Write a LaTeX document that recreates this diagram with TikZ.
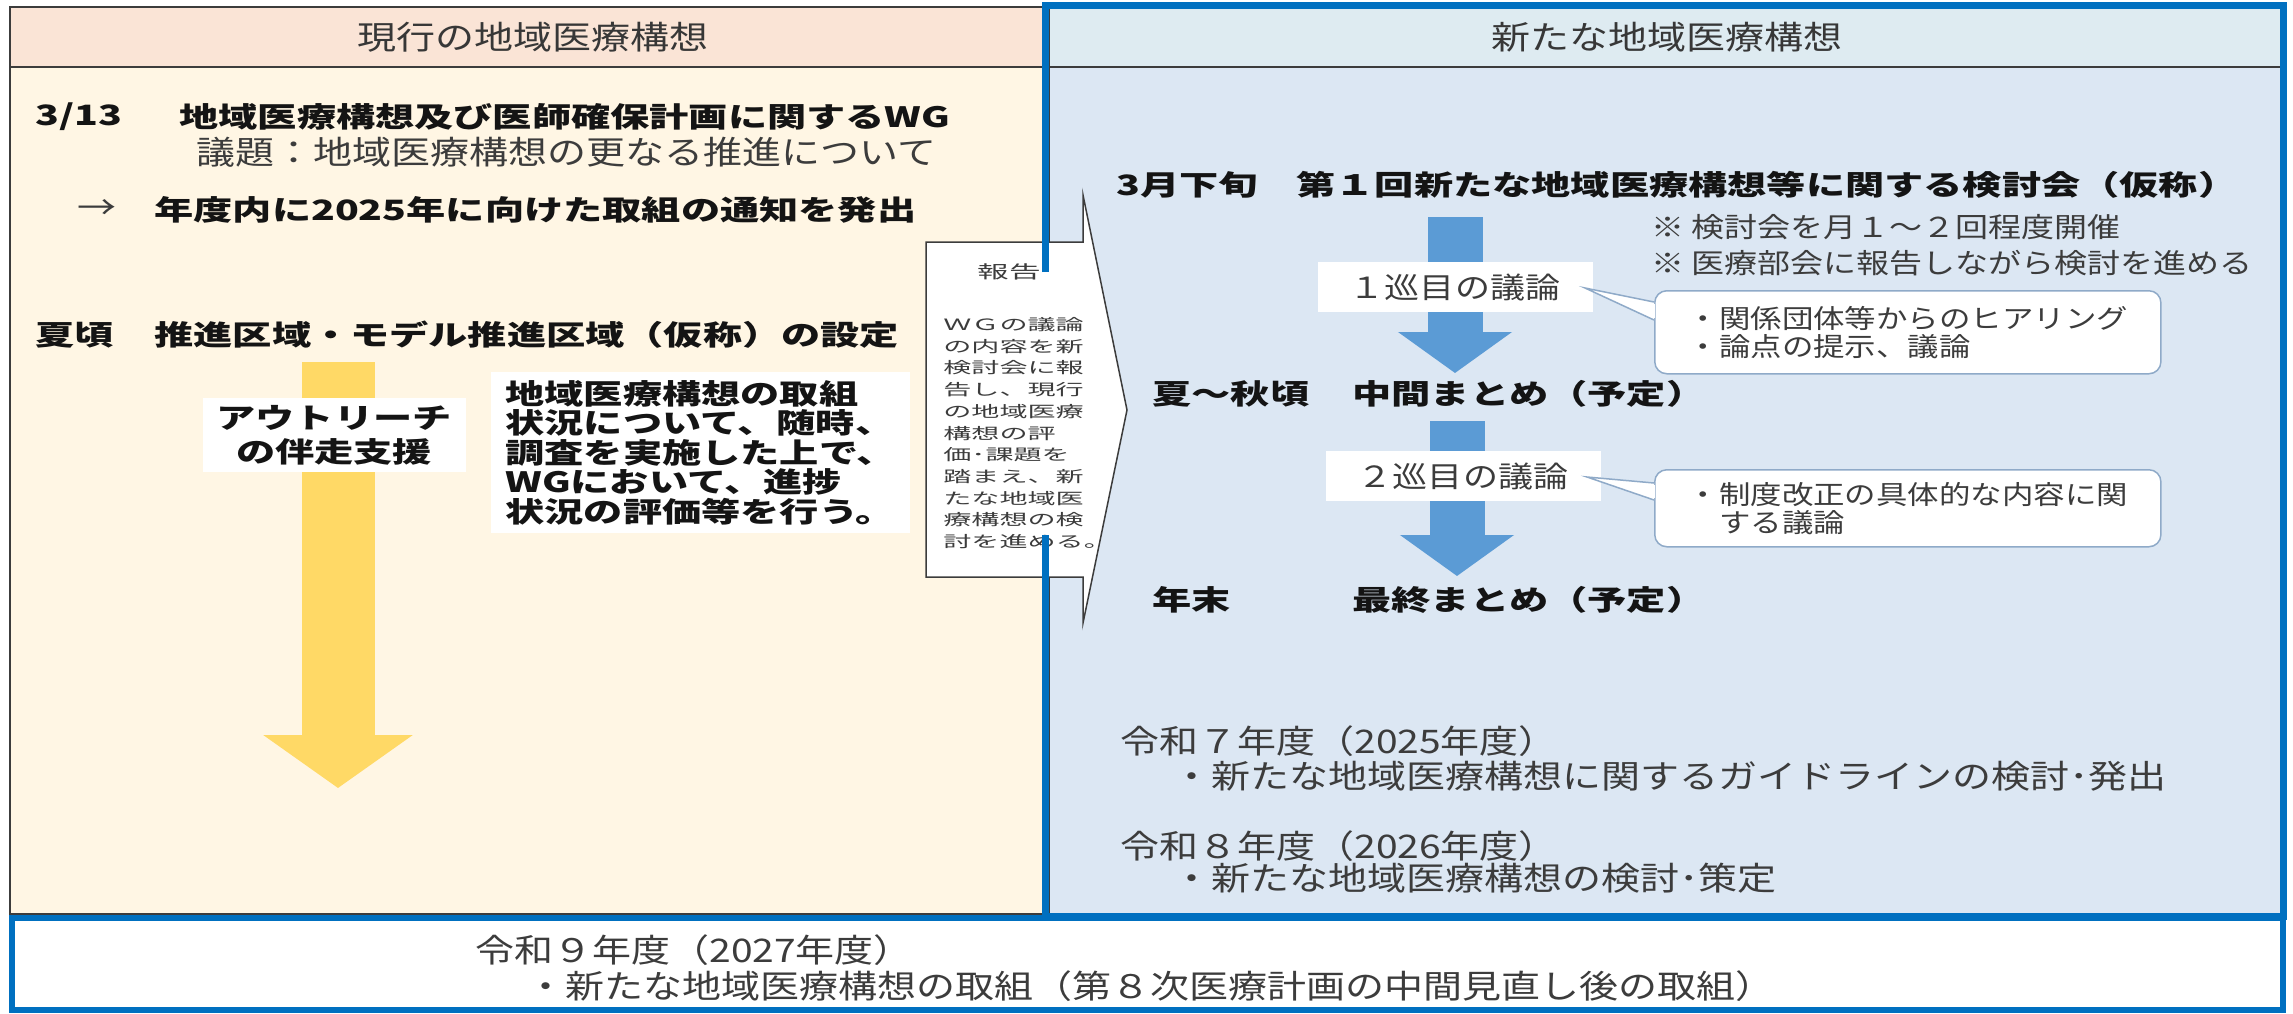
\documentclass[tikz,border=0pt]{standalone}
\usepackage{fontspec}
\usepackage{tikz}
\usetikzlibrary{arrows.meta}
\newfontfamily\jpfont[FakeStretch=1.4]{Noto Sans CJK JP}
\newfontfamily\jpreg[FakeStretch=1.2]{Noto Sans CJK JP}
\newfontfamily\jpwide[FakeStretch=1.8]{Noto Sans CJK JP}
\definecolor{peach}{RGB}{250,228,214}
\definecolor{cream}{RGB}{255,246,228}
\definecolor{paleblue}{RGB}{220,231,243}
\definecolor{headblue}{RGB}{222,235,241}
\definecolor{frameblue}{RGB}{0,112,192}
\definecolor{arrowblue}{RGB}{91,155,213}
\definecolor{gold}{RGB}{255,217,102}
\definecolor{bubline}{RGB}{143,170,200}
\definecolor{ink}{RGB}{20,20,20}
\definecolor{greyink}{RGB}{60,60,60}

\begin{document}
\begin{tikzpicture}[x=0.5pt, y=-0.5pt,
    boldrow/.style={font=\jpfont\bfseries\fontsize{14}{16}\selectfont, text=ink, inner sep=0pt},
    plainrow/.style={font=\jpreg\fontsize{16.25}{18}\selectfont, text=greyink, inner sep=0pt},
    noterow/.style={font=\jpreg\fontsize{13.75}{16}\selectfont, text=greyink, inner sep=0pt},
    tagbox/.style={fill=white, font=\jpreg\fontsize{14.6}{16}\selectfont, text=greyink,
        minimum width=137.5pt, minimum height=25pt, inner sep=0pt},
    bubblebox/.style={draw=bubline, line width=0.75pt, fill=white, rounded corners=6pt,
        anchor=north west, align=left, minimum width=250.5pt, inner xsep=16.5pt,
        font=\jpreg\fontsize{13.1}{14}\selectfont, text=greyink},
    flowarrow/.style={line width=27.5pt, arrowblue, -{Triangle[width=56pt,length=20.5pt]}}
  ]
  \useasboundingbox (0,0) rectangle (2293,1013);
  \fill[white] (0,0) rectangle (2293,1013);

  % panels
  \fill[cream] (10,7) rectangle (1050,914);
  \fill[peach] (10,7) rectangle (1050,67);
  \draw[greyink, line width=0.75pt] (10,7) rectangle (1050,914) (10,67) -- (1050,67);
  \fill[paleblue] (1050,7) rectangle (2283,914);
  \fill[headblue] (1050,7) rectangle (2283,67);
  \draw[greyink, line width=0.75pt] (1050,67) -- (2283,67);

  \node[plainrow, text=ink!85] (curhead) at (533,37) {現行の地域医療構想};
  \node[plainrow, text=ink!85] (newhead) at (1667,37) {新たな地域医療構想};

  % current plan
  \node[boldrow, anchor=west] (d313) at (35,117) {3/13};
  \node[boldrow, anchor=west] (wg) at (179,117) {地域医療構想及び医師確保計画に関するWG};
  \node[plainrow, anchor=west] (agenda) at (196,152) {議題：地域医療構想の更なる推進について};
  \node[plainrow, anchor=west] (then) at (77,210) {→};
  \node[boldrow, anchor=west] (notice) at (154,210) {年度内に2025年に向けた取組の通知を発出};
  \node[boldrow, anchor=west] (dsummer) at (35,335) {夏頃};
  \node[boldrow, anchor=west] (zone) at (154,335) {推進区域・モデル推進区域（仮称）の設定};

  \coordinate (ytop) at (338,362);
  \coordinate (ytip) at (338,788);
  \draw[line width=36.5pt, gold, -{Triangle[width=73.5pt,length=26.5pt]}] (ytop) -- (ytip);
  \node[boldrow, fill=white, align=center, minimum width=131.5pt, minimum height=37pt,
    font=\jpfont\bfseries\fontsize{14}{17}\selectfont] (outreach) at (334,435) {アウトリーチ\\の伴走支援};
  \node[fill=white, anchor=north west, align=left, inner xsep=7pt, inner ysep=4pt, text=ink,
    font=\jpfont\bfseries\fontsize{14}{14.75}\selectfont] (survey) at (491,372)
    {地域医療構想の取組\\状況について、随時、\\調査を実施した上で、\\WGにおいて、進捗\\状況の評価等を行う。};

  % report callout
  \filldraw[fill=white, draw=greyink, line width=0.75pt] (926,242) -- (1083,242) -- (1083,195)
    -- (1127,410) -- (1083,623) -- (1083,577) -- (926,577) -- cycle;
  \node[font=\jpwide\fontsize{8.8}{10}\selectfont, text=greyink, inner sep=0pt] (report) at (1009,272) {報告};
  \node[anchor=north west, align=left, inner sep=0pt, text=greyink,
    font=\jpwide\fontsize{7.8}{10.85}\selectfont] (reportbody) at (943,317)
    {ＷＧの議論\\の内容を新\\検討会に報\\告し、現行\\の地域医療\\構想の評\\価･課題を\\踏まえ、新\\たな地域医\\療構想の検\\討を進める。};

  % new plan
  \node[boldrow, anchor=west] (dmarch) at (1116,185) {3月下旬};
  \node[boldrow, anchor=west] (first) at (1296,185) {第１回新たな地域医療構想等に関する検討会（仮称）};
  \node[noterow, anchor=west] (note1) at (1651,227) {※ 検討会を月１～２回程度開催};
  \node[noterow, anchor=west] (note2) at (1651,263) {※ 医療部会に報告しながら検討を進める};

  \coordinate (f1top) at (1455,217);
  \coordinate (f1tip) at (1455,373);
  \draw[flowarrow] (f1top) -- (f1tip);
  \node[tagbox] (round1) at (1455,287) {１巡目の議論};

  \node[boldrow, anchor=west] (dautumn) at (1152,394) {夏～秋頃};
  \node[boldrow, anchor=west] (interim) at (1352,394) {中間まとめ（予定）};

  \coordinate (f2top) at (1457,421);
  \coordinate (f2tip) at (1457,576);
  \draw[flowarrow] (f2top) -- (f2tip);
  \node[tagbox] (round2) at (1463,476) {２巡目の議論};

  \node[boldrow, anchor=west] (dyear) at (1152,600) {年末};
  \node[boldrow, anchor=west] (final) at (1352,600) {最終まとめ（予定）};

  \node[bubblebox, minimum height=41.5pt] (hear) at (1654,290) {・関係団体等からのヒアリング\\・論点の提示、議論};
  \coordinate (hearptr) at (1585,288);
  \filldraw[fill=white, draw=bubline, line width=0.75pt] (hear.west |- 0,302) -- (hearptr) -- (hear.west |- 0,320);
  \draw[white, line width=1.2pt] (hear.west |- 0,304) -- (hear.west |- 0,318);

  \node[bubblebox, minimum height=38.5pt] (reform) at (1654,469) {・制度改正の具体的な内容に関\\　する議論};
  \coordinate (reformptr) at (1587,477);
  \filldraw[fill=white, draw=bubline, line width=0.75pt] (reform.west |- 0,483) -- (reformptr) -- (reform.west |- 0,500);
  \draw[white, line width=1.2pt] (reform.west |- 0,485) -- (reform.west |- 0,498);

  \node[plainrow, anchor=west] (r7) at (1120,741) {令和７年度（2025年度）};
  \node[plainrow, anchor=west] (r7item) at (1172,776) {・新たな地域医療構想に関するガイドラインの検討･発出};
  \node[plainrow, anchor=west] (r8) at (1120,846) {令和８年度（2026年度）};
  \node[plainrow, anchor=west] (r8item) at (1172,878) {・新たな地域医療構想の検討･策定};

  % bottom box and frame
  \draw[frameblue, line width=3pt, fill=white] (12,918) rectangle (2283,1010);
  \node[plainrow, anchor=west] (r9) at (475,950) {令和９年度（2027年度）};
  \node[plainrow, anchor=west] (r9item) at (526,986) {・新たな地域医療構想の取組（第８次医療計画の中間見直し後の取組）};

  \draw[frameblue, line width=3.5pt] (1045,272) -- (1045,5) -- (2283,5) -- (2283,916) -- (1045,916) -- (1045,535);
\end{tikzpicture}
\end{document}
